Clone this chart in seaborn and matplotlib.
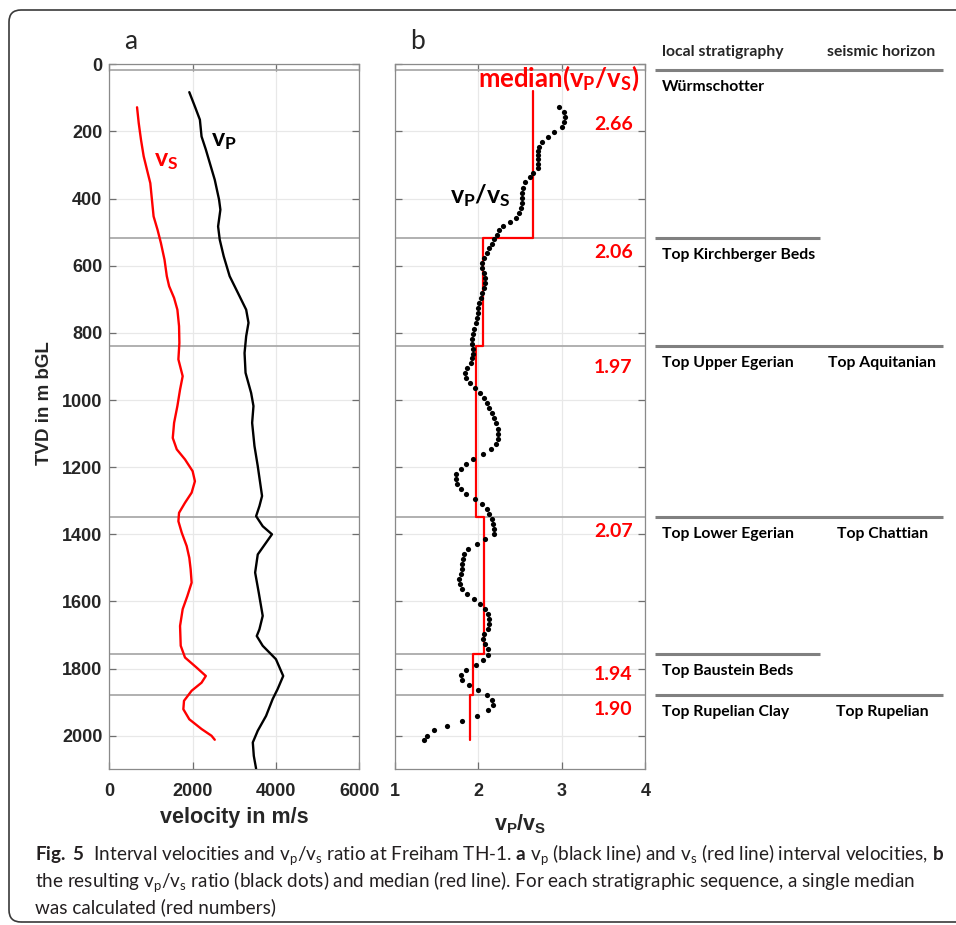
import matplotlib
matplotlib.use("Agg")
import matplotlib.pyplot as plt
import matplotlib.transforms as mtransforms
from matplotlib.patches import FancyBboxPatch
import numpy as np
import pandas as pd
import seaborn as sns

# ---------------- data ----------------
vs_depth = [128, 175, 225, 274, 314, 354, 403, 453, 493, 532, 582, 631, 661, 696, 731, 780, 830, 879, 929, 969,
            1018, 1068, 1113, 1147, 1177, 1212, 1242, 1276, 1306, 1336, 1361, 1395, 1435, 1470, 1504, 1544, 1584,
            1623, 1673, 1732, 1767, 1797, 1822, 1842, 1866, 1896, 1921, 1951, 1980, 2000, 2012]
vs_vel = [666, 706, 761, 825, 904, 984, 1023, 1063, 1158, 1238, 1325, 1380, 1436, 1555, 1634, 1674, 1682, 1658, 1761, 1698,
          1634, 1555, 1523, 1619, 1817, 2000, 2055, 1976, 1817, 1674, 1658, 1738, 1857, 1920, 1952, 1976, 1873,
          1761, 1698, 1714, 1817, 2095, 2317, 2214, 1976, 1793, 1777, 1920, 2214, 2452, 2531]

vp_depth = [83, 126, 165, 215, 254, 294, 344, 403, 433, 483, 522, 572, 631, 681, 731, 770, 810, 860, 919, 979,
            1018, 1068, 1137, 1197, 1286, 1316, 1346, 1376, 1400, 1425, 1460, 1514, 1574, 1643, 1683, 1703, 1732,
            1772, 1822, 1861, 1891, 1941, 1985, 2020, 2060, 2098]
vp_vel = [1920, 2055, 2174, 2214, 2317, 2412, 2531, 2634, 2666, 2611, 2650, 2746, 2888, 3087, 3285, 3341, 3285, 3246, 3270, 3404,
          3460, 3428, 3484, 3563, 3666, 3603, 3523, 3682, 3904, 3762, 3563, 3500, 3587, 3682, 3603, 3539, 3682,
          3999, 4174, 4040, 3920, 3762, 3563, 3444, 3468, 3523]

ratio_depth = [127, 142, 157, 172, 187, 202, 217, 230, 245, 257, 270, 283, 296, 309, 324, 337, 352, 367, 382, 397,
               412, 427, 442, 457, 470, 482, 494, 507, 520, 534, 547, 562, 577, 592, 607, 622, 637, 652, 667, 682,
               697, 712, 727, 742, 757, 772, 787, 802, 817, 832, 847, 862,
               875, 889, 904, 919, 934, 949, 964, 979, 994, 1008, 1023, 1038, 1053, 1068, 1086, 1101, 1116, 1131,
               1145, 1160, 1175, 1190, 1205, 1220, 1235, 1250, 1264, 1279, 1294, 1309, 1324, 1339, 1354, 1369,
               1384, 1398, 1413, 1428, 1445, 1460,
               1475, 1489, 1504, 1519, 1534, 1549, 1564, 1579, 1594, 1608, 1623, 1638, 1653, 1668, 1683, 1698,
               1713, 1728, 1742, 1759, 1774, 1789, 1804, 1819, 1834, 1849, 1863, 1878, 1893, 1908, 1924, 1940,
               1956, 1970, 1984, 2000, 2014]
ratio_val = [2.97, 3.03, 3.04, 3.03, 3.00, 2.90, 2.83, 2.76, 2.73, 2.72, 2.71, 2.71, 2.71, 2.71, 2.66, 2.62, 2.56, 2.53, 2.52, 2.52,
             2.52, 2.51, 2.49, 2.45, 2.38, 2.30, 2.25, 2.22, 2.19, 2.16, 2.13, 2.10, 2.07, 2.05, 2.05, 2.07, 2.08, 2.08, 2.07, 2.05,
             2.03, 2.01, 2.00, 2.00, 1.99, 1.97, 1.95, 1.94, 1.93, 1.93, 1.94, 1.94,
             1.93, 1.91, 1.86, 1.84, 1.85, 1.90, 1.96, 2.02, 2.07, 2.11, 2.13, 2.16, 2.19, 2.21, 2.23, 2.24, 2.24, 2.21,
             2.15, 2.06, 1.94, 1.85, 1.79, 1.73, 1.73, 1.75, 1.79, 1.85, 1.96, 2.05, 2.11, 2.13, 2.16, 2.18,
             2.19, 2.19, 2.08, 1.98, 1.88, 1.83,
             1.82, 1.81, 1.81, 1.79, 1.77, 1.78, 1.80, 1.87, 1.95, 2.02, 2.08, 2.12, 2.13, 2.13, 2.12, 2.07,
             2.06, 2.08, 2.12, 2.12, 2.06, 1.97, 1.85, 1.79, 1.81, 1.89, 2.00, 2.10, 2.16, 2.17, 2.12, 1.98,
             1.81, 1.63, 1.47, 1.39, 1.35]

horizon_depth = [18, 516, 838, 1347, 1758, 1880]
strat_names = ["Würmschotter", "Top Kirchberger Beds", "Top Upper Egerian", "Top Lower Egerian",
               "Top Baustein Beds", "Top Rupelian Clay"]
seismic_names = ["", "", "Top Aquitanian", "Top Chattian", "", "Top Rupelian"]

median_top = [80, 516, 838, 1347, 1758, 1880]
median_base = 2014
median_val = [2.66, 2.06, 1.97, 2.07, 1.94, 1.90]

vel_ticks = [0, 2000, 4000, 6000]
ratio_ticks = [1, 2, 3, 4]
depth_ticks = list(range(0, 2001, 200))

# ---------------- style ----------------
sns.set_theme(style="white")
plt.rcParams["font.family"] = ["Liberation Sans", "DejaVu Sans"]
plt.rcParams["mathtext.fontset"] = "custom"
plt.rcParams["mathtext.rm"] = "Lato"
plt.rcParams["mathtext.bf"] = "Lato:bold"
plt.rcParams["mathtext.it"] = "Lato:italic"

W, H = 956, 925
fig = plt.figure(figsize=(W / 100, H / 100), dpi=100)
fig.patch.set_facecolor("white")


def px_axes(x0, x1, y0, y1):
    return fig.add_axes([x0 / W, 1 - y1 / H, (x1 - x0) / W, (y1 - y0) / H])


top_px, bot_px = 64.3, 769.3
ax_a = px_axes(109.3, 359.3, top_px, bot_px)
ax_b = px_axes(394.7, 645.5, top_px, bot_px)
ax_r = px_axes(655, 945, top_px, bot_px)

spine_col = "#8a8a8a"
tick_col = "#262626"
grid_col = "#e8e8e8"
hz_col = "#aaaaaa"

for ax in (ax_a, ax_b):
    ax.set_ylim(2100, 0)
    ax.set_yticks(depth_ticks)
    ax.grid(True, color=grid_col, lw=0.9)
    ax.set_axisbelow(True)
    for s in ax.spines.values():
        s.set_color(spine_col)
        s.set_linewidth(0.9)
    ax.tick_params(direction="in", length=5, width=0.9, color="#6e6e6e",
                   top=True, right=True, bottom=True, left=True,
                   labelsize=13, labelcolor=tick_col)
    ax.tick_params(axis="x", pad=10)
    ax.tick_params(axis="y", pad=5)
    for d in horizon_depth:
        ax.axhline(d, color=hz_col, lw=1.3, zorder=1)

ax_a.set_xlim(0, 6000)
ax_a.set_xticks(vel_ticks)
ax_b.set_xlim(1, 4)
ax_b.set_xticks(ratio_ticks)
ax_b.set_yticklabels([])
for ax in (ax_a, ax_b):
    for lab in ax.get_xticklabels() + ax.get_yticklabels():
        lab.set_fontweight("bold")

# panel a curves
df_vs = pd.DataFrame({"vel": vs_vel, "depth": vs_depth})
df_vp = pd.DataFrame({"vel": vp_vel, "depth": vp_depth})
sns.lineplot(data=df_vs, x="vel", y="depth", sort=False, estimator=None, color="#ff0000", lw=1.7, ax=ax_a,
             zorder=3, solid_joinstyle="round")
sns.lineplot(data=df_vp, x="vel", y="depth", sort=False, estimator=None, color="black", lw=1.7, ax=ax_a,
             zorder=3, solid_joinstyle="round")
ax_a.set_xlabel("")
ax_a.set_ylabel("")

ax_a.text(2452, 243, r"v$_\mathregular{P}$", fontfamily="Lato", fontweight="bold", fontsize=18,
          color="black", va="baseline", ha="left")
ax_a.text(1063, 303, r"v$_\mathregular{S}$", fontfamily="Lato", fontweight="bold", fontsize=18,
          color="#ff0000", va="baseline", ha="left")

# panel b: median step line and ratio dots
mx, my = [], []
bounds = median_top[1:] + [median_base]
for v, t, b in zip(median_val, median_top, bounds):
    mx += [v, v]
    my += [t, b]
df_med = pd.DataFrame({"r": mx, "depth": my})
sns.lineplot(data=df_med, x="r", y="depth", sort=False, estimator=None, color="#ff0000", lw=1.6, ax=ax_b, zorder=3)
df_ratio = pd.DataFrame({"r": ratio_val, "depth": ratio_depth})
sns.scatterplot(data=df_ratio, x="r", y="depth", color="black", s=14, linewidth=0, ax=ax_b, zorder=4)
ax_b.set_xlabel("")
ax_b.set_ylabel("")

num_label_depth = [196, 578, 919, 1407, 1834, 1938]
for v, d in zip(median_val, num_label_depth):
    ax_b.text(3.845, d, f"{v:.2f}", fontfamily="Lato", fontweight="bold", fontsize=14,
              color="#ff0000", ha="right", va="baseline")
ax_b.text(3.93, 66, r"median(v$_\mathregular{P}$/v$_\mathregular{S}$)", fontfamily="Lato", fontweight="bold",
          fontsize=18.5, color="#ff0000", ha="right", va="baseline", zorder=5)
ax_b.text(1.66, 412, r"v$_\mathregular{P}$/v$_\mathregular{S}$", fontfamily="Lato", fontweight="bold",
          fontsize=18, color="black", ha="left", va="baseline")

# right-hand stratigraphy column
ax_r.set_ylim(2100, 0)
ax_r.set_xlim(0, 1)
ax_r.axis("off")
off = mtransforms.offset_copy(ax_r.transData, fig=fig, x=0, y=-21 * 0.72, units="points")
rfs = 11.3
for i, (d, nm, sh) in enumerate(zip(horizon_depth, strat_names, seismic_names)):
    x_end = 0.993 if (sh or i == 0) else 0.569
    ax_r.plot([0, x_end], [d, d], color="#808080", lw=2.2, solid_capstyle="butt", clip_on=False)
    ax_r.text(0.024, d, nm, transform=off, fontfamily="Lato", fontweight="bold", fontsize=rfs,
              color="black", ha="left", va="baseline")
    if sh:
        ax_r.text(0.783, d, sh, transform=off, fontfamily="Lato", fontweight="bold", fontsize=rfs,
                  color="black", ha="center", va="baseline")

fig.text(662 / W, 1 - 56 / H, "local stratigraphy", fontfamily="Lato", fontweight="bold", fontsize=rfs,
         ha="left", va="baseline")
fig.text(881 / W, 1 - 56 / H, "seismic horizon", fontfamily="Lato", fontweight="bold", fontsize=rfs,
         ha="center", va="baseline")

# axis labels and panel letters
fig.text(44.5 / W, 1 - 403 / H, "TVD in m bGL", rotation=90, fontweight="bold", fontsize=13.5,
         color=tick_col, ha="center", va="center")
fig.text(234 / W, 1 - 817 / H, "velocity in m/s", fontweight="bold", fontsize=15.5,
         color=tick_col, ha="center", va="center")
fig.text(520 / W, 1 - 824 / H, r"v$_\mathregular{P}$/v$_\mathregular{S}$", fontweight="bold", fontsize=15.5,
         color=tick_col, ha="center", va="center")
fig.text(131 / W, 1 - 49 / H, "a", fontfamily="Lato", fontsize=19, ha="center", va="baseline")
fig.text(418 / W, 1 - 49 / H, "b", fontfamily="Lato", fontsize=19, ha="center", va="baseline")

# caption
cap_family = ["Liberation Sans Narrow", "Lato"]
cap1 = (r"$\mathbf{Fig.}$$\mathbf{\ 5}$  Interval velocities and v$_\mathregular{p}$/v$_\mathregular{s}$ ratio at Freiham TH-1. "
        r"$\mathbf{a}$ v$_\mathregular{p}$ (black line) and v$_\mathregular{s}$ (red line) interval velocities, $\mathbf{b}$")
cap2 = (r"the resulting v$_\mathregular{p}$/v$_\mathregular{s}$ ratio (black dots) and median (red line). "
        r"For each stratigraphic sequence, a single median")
cap3 = "was calculated (red numbers)"
cap_col = "#231f20"
t1 = fig.text(35 / W, 1 - 860 / H, cap1, fontfamily=cap_family, fontsize=14, color=cap_col, ha="left", va="baseline")
t2 = fig.text(35 / W, 1 - 886.5 / H, cap2, fontfamily=cap_family, fontsize=14, color=cap_col, ha="left", va="baseline")
t3 = fig.text(35 / W, 1 - 913 / H, cap3, fontfamily=cap_family, fontsize=14, color=cap_col, ha="left", va="baseline")
fig.canvas.draw()
r = fig.canvas.get_renderer()
w1 = t1.get_window_extent(r).width
fs = min(15.5, 14 * 910 / w1)
for t in (t1, t2, t3):
    t.set_fontsize(fs)

# rounded frame
frame = FancyBboxPatch((9, H - 922), 990, 912, boxstyle="round,pad=0,rounding_size=12",
                       transform=mtransforms.IdentityTransform(), fill=False, edgecolor="#3a3a3a", lw=1.2)
fig.patches.append(frame)

fig.savefig("out.png", dpi=100, facecolor="white")
